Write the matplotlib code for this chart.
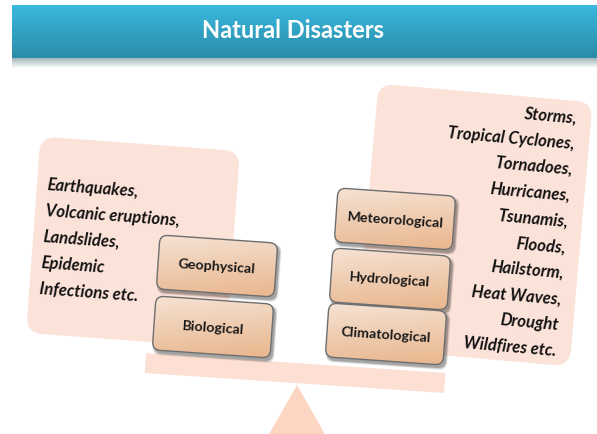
import numpy as np
import matplotlib.pyplot as plt
import matplotlib.transforms as mtransforms
from matplotlib.patches import FancyBboxPatch, Polygon
from matplotlib.colors import to_rgb

# diagram content
title = "Natural Disasters"
left_categories = ["Geophysical", "Biological"]
right_categories = ["Meteorological", "Hydrological", "Climatological"]
left_items = ["Earthquakes,", "Volcanic eruptions,", "Landslides,", "Epidemic",
              "Infections etc."]
right_items = ["Storms,", "Tropical Cyclones,", "Tornadoes,", "Hurricanes,",
               "Tsunamis,", "Floods,", "Hailstorm,", "Heat Waves,", "Drought",
               "Wildfires etc."]

W, H = 597, 434
FONT = "Lato"

fig = plt.figure(figsize=(W / 100, H / 100), dpi=100)
ax = fig.add_axes([0, 0, 1, 1])
ax.axis("off")


def rot(cx, cy, angle):
    return mtransforms.Affine2D().rotate_deg_around(cx, cy, angle) + ax.transData


def rbox(cx, cy, w, h, angle, r, z, **kw):
    p = FancyBboxPatch((cx - w / 2, cy - h / 2), w, h,
                       boxstyle=f"round,pad=0,rounding_size={r}",
                       transform=rot(cx, cy, angle), zorder=z, **kw)
    ax.add_patch(p)
    return p


def gradient(patch, top, bottom, ext, z, horiz=0.0):
    x0, x1, y0, y1 = ext
    ty = np.linspace(0, 1, 80)[:, None, None]
    tx = np.linspace(0, 1, 80)[None, :, None]
    c0, c1 = np.array(to_rgb(top)), np.array(to_rgb(bottom))
    img = c0 + (c1 - c0) * np.clip(ty + horiz * tx, 0, 1)
    im = ax.imshow(img, extent=(x0, x1, y1, y0), origin="upper",
                   aspect="auto", interpolation="bilinear", zorder=z)
    im.set_clip_path(patch)


# title bar with shadow
bar = FancyBboxPatch((12, 5), W - 12, 53, boxstyle="square,pad=0",
                     facecolor="none", edgecolor="none", zorder=2)
ax.add_patch(bar)
gradient(bar, "#3ab8de", "#2a8ca8", (12, W, 5, 58), 2)
sh = FancyBboxPatch((12, 58), W - 12, 10, boxstyle="square,pad=0",
                    facecolor="none", edgecolor="none", zorder=1)
ax.add_patch(sh)
gradient(sh, "#9fb4ba", "#ffffff", (12, W, 58, 68), 1)
ax.text(293, 31, title, color="white", fontsize=17, fontweight="bold",
        family=FONT, ha="center", va="center", zorder=3)

# large background panels
pale = "#fce3d9"
rbox(133, 242, 200, 197, 4.2, 16, 3, facecolor=pale, edgecolor="none")
rbox(474, 225, 215, 265, 5.0, 16, 3, facecolor=pale, edgecolor="none")

# beam and fulcrum
rbox(295, 373, 300, 20, 3.8, 0, 4, facecolor="#fde0d3", edgecolor="none")
ax.add_patch(Polygon([(297, 385), (268, 436), (326, 436)], closed=True,
                     facecolor="#fcd5c3", edgecolor="none", zorder=4))

# item lists
step = 26
a = np.deg2rad(4.2)
for i, s in enumerate(left_items):
    x = 47 - np.sin(a) * step * i
    y = 185 + np.cos(a) * step * i
    ax.text(x, y, s, fontsize=12, fontweight="bold", fontstyle="italic",
            family=FONT, ha="left", va="center", rotation=-4.2,
            rotation_mode="anchor", color="#111111", zorder=5)

a = np.deg2rad(5.0)
for i, s in enumerate(right_items):
    x = 577 - np.sin(a) * step * i
    y = 118 + np.cos(a) * step * i
    ax.text(x, y, s, fontsize=12, fontweight="bold", fontstyle="italic",
            family=FONT, ha="right", va="center", rotation=-5.0,
            rotation_mode="anchor", color="#111111", zorder=5)

# category boxes
left_centres = [(217, 266), (213, 327)]
right_centres = [(395, 219), (390, 279), (386, 334)]
bw, bh, ang = 118, 54, 4.0


def category(cx, cy, label):
    for k, al in enumerate([0.10, 0.12, 0.18]):
        grow = 4 - 1.5 * k
        rbox(cx + 2, cy + 3, bw + grow, bh + grow, ang, 8, 6,
             facecolor="#000000", edgecolor="none", alpha=al)
    p = rbox(cx, cy, bw, bh, ang, 8, 7, facecolor="#f3d6c2",
             edgecolor="#6e6e6e", linewidth=1.0)
    gradient(p, "#f6e6da", "#eab991",
             (cx - 70, cx + 70, cy - 36, cy + 36), 7, horiz=0.15)
    p.set_facecolor("none")
    p.set_zorder(8)
    ax.text(cx, cy + 1, label, fontsize=10.3, fontweight="bold", family=FONT,
            ha="center", va="center", rotation=-ang, rotation_mode="anchor",
            color="#1a1a1a", zorder=9)


for (cx, cy), lab in zip(left_centres, left_categories):
    category(cx, cy, lab)
for (cx, cy), lab in zip(right_centres, right_categories):
    category(cx, cy, lab)

ax.set_xlim(0, W)
ax.set_ylim(H, 0)
fig.savefig("out.png", dpi=100, facecolor="white")
